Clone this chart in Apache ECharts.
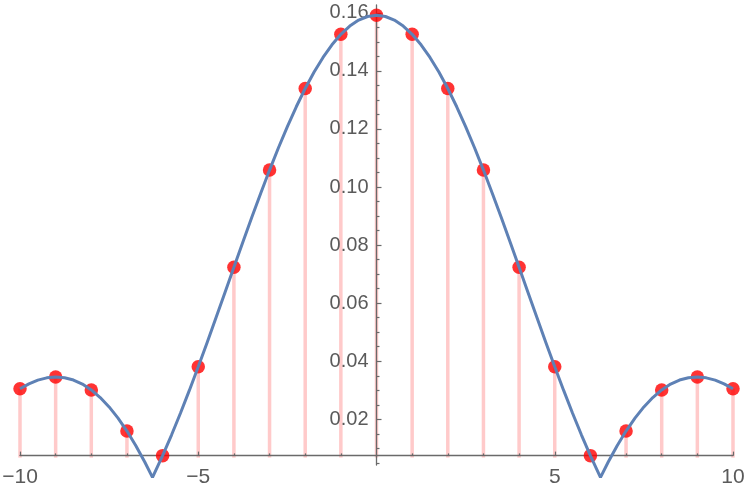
<!DOCTYPE html>
<html>
<head>
<meta charset="utf-8">
<script src="https://cdn.jsdelivr.net/npm/echarts@6/dist/echarts.min.js"></script>
<style>html,body{margin:0;padding:0;background:#fff}#c{width:750px;height:488px}</style>
</head>
<body>
<div id="c"></div>
<script>
// ---- data ----
const stemX = [-10,-9,-8,-7,-6,-5,-4,-3,-2,-1,0,1,2,3,4,5,6,7,8,9,10];
const stemY = [0.03052,0.03457,0.03011,0.01595,0.00749,0.03810,0.07236,0.10584,0.13393,0.15261,0.15916,
               0.15261,0.13393,0.10584,0.07236,0.03810,0.00749,0.01595,0.03011,0.03457,0.03052];

const curveX = [-10,-9.75,-9.5,-9.25,-9,-8.75,-8.5,-8.25,-8,-7.75,-7.5,-7.25,-7,-6.75,-6.5,-6.2832,-6.25,-6,
  -5.75,-5.5,-5.25,-5,-4.75,-4.5,-4.25,-4,-3.75,-3.5,-3.25,-3,-2.75,-2.5,-2.25,-2,-1.75,-1.5,-1.25,-1,-0.75,-0.5,-0.25,
  0,0.25,0.5,0.75,1,1.25,1.5,1.75,2,2.25,2.5,2.75,3,3.25,3.5,3.75,4,4.25,4.5,4.75,5,5.25,5.5,5.75,
  6,6.25,6.2832,6.5,6.75,7,7.25,7.5,7.75,8,8.25,8.5,8.75,9,9.25,9.5,9.75,10];
const curveY = [0.03052,0.03222,0.03348,0.03428,0.03457,0.03433,0.03352,0.03212,0.03011,0.02749,0.02426,0.02041,0.01595,0.01091,0.00530,0,0.00085,0.00749,
  0.01458,0.02209,0.02995,0.03810,0.04649,0.05504,0.06369,0.07236,0.08099,0.08949,0.09780,0.10584,0.11354,0.12083,0.12765,0.13393,0.13961,0.14465,0.14899,0.15261,0.15545,0.15750,0.15874,
  0.15916,0.15874,0.15750,0.15545,0.15261,0.14899,0.14465,0.13961,0.13393,0.12765,0.12083,0.11354,0.10584,0.09780,0.08949,0.08099,0.07236,0.06369,0.05504,0.04649,
  0.03810,0.02995,0.02209,0.01458,0.00749,0.00085,0,0.00530,0.01091,0.01595,0.02041,0.02426,0.02749,0.03011,0.03212,0.03352,0.03433,0.03457,0.03428,0.03348,0.03222,0.03052];

const yTickLabels = [0.02,0.04,0.06,0.08,0.10,0.12,0.14,0.16];
const yMinorTicks = [0.01,0.015,0.025,0.03,0.035,0.045,0.05,0.055,0.065,0.07,0.075,0.085,0.09,0.095,
  0.105,0.11,0.115,0.125,0.13,0.135,0.145,0.15,0.155];
const xTickLabels = [-10,-5,5,10];
const xMinorTicks = [-9,-8,-7,-6,-4,-3,-2,-1,1,2,3,4,6,7,8,9];
const yTailTicks = [0.005];

// ---- chart ----
const Y_MIN = 0.0075, Y_MAX = 0.1627;
const AX = '#6a6a6a', TXT = '#5a5a5a';
const FONT = 'Liberation Sans, Arial, sans-serif';

const chart = echarts.init(document.getElementById('c'), null, {renderer: 'canvas'});
const fmtX = v => v < 0 ? '\u2212' + (-v) : String(v);

chart.setOption({
  animation: false,
  grid: [
    {left: 20, right: 17, top: 5, bottom: 32.4, containLabel: false, outerBoundsMode: 'none'},
    {left: 20, right: 17, top: 455.6, height: 9.5, containLabel: false, outerBoundsMode: 'none'}
  ],
  xAxis: [
    {type: 'value', gridIndex: 0, min: -10, max: 10, z: 2,
     axisLine: {onZero: false, lineStyle: {color: AX, width: 1.3}},
     axisTick: {inside: true, length: 4, lineStyle: {color: AX, width: 1.2}, customValues: xTickLabels},
     axisLabel: {customValues: xTickLabels, formatter: fmtX, color: TXT, fontSize: 21, fontFamily: FONT, margin: 11},
     splitLine: {show: false}},
    {type: 'value', gridIndex: 0, min: -10, max: 10, position: 'bottom', z: 2,
     axisLine: {show: false, onZero: false},
     axisTick: {inside: true, length: 2.2, lineStyle: {color: AX, width: 1.2}, customValues: xMinorTicks},
     axisLabel: {show: false}, splitLine: {show: false}},
    {type: 'value', gridIndex: 1, min: -10, max: 10, show: false}
  ],
  yAxis: [
    {type: 'value', gridIndex: 0, min: Y_MIN, max: Y_MAX, position: 'left', z: 2,
     axisLine: {show: true, onZero: false, lineStyle: {color: AX, width: 1.3}},
     axisTick: {inside: true, length: 5, lineStyle: {color: AX, width: 1.2}, customValues: yTickLabels},
     axisLabel: {customValues: yTickLabels, formatter: v => v.toFixed(2), color: TXT, fontSize: 20, fontFamily: FONT, margin: 8},
     splitLine: {show: false}},
    {type: 'value', gridIndex: 0, min: Y_MIN, max: Y_MAX, position: 'left', z: 2,
     axisLine: {show: false, onZero: false},
     axisTick: {inside: true, length: 3, lineStyle: {color: AX, width: 1.2}, customValues: yMinorTicks},
     axisLabel: {show: false}, splitLine: {show: false}},
    {type: 'value', gridIndex: 1, min: 0.0043, max: Y_MIN, position: 'left', z: 2,
     axisLine: {show: true, onZero: false, lineStyle: {color: AX, width: 1.3}},
     axisTick: {inside: true, length: 3, lineStyle: {color: AX, width: 1.2}, customValues: yTailTicks},
     axisLabel: {show: false}, splitLine: {show: false}}
  ],
  series: [
    {type: 'custom', xAxisIndex: 0, yAxisIndex: 0, z: 1, clip: false,
     data: stemX.map((x, i) => [x, stemY[i]]),
     renderItem: (params, api) => {
       const top = api.coord([api.value(0), api.value(1)]);
       const bot = api.coord([api.value(0), Y_MIN]);
       return {type: 'line', shape: {x1: top[0], y1: top[1], x2: bot[0], y2: bot[1] + 2},
               style: {stroke: '#ffcaca', lineWidth: 3.5}};
     }},
    {type: 'scatter', xAxisIndex: 0, yAxisIndex: 0, z: 3, clip: false,
     data: stemX.map((x, i) => [x, stemY[i]]),
     symbol: 'circle', symbolSize: 13.5, itemStyle: {color: '#ff0000'}},
    {type: 'line', xAxisIndex: 0, yAxisIndex: 0, z: 4, clip: false,
     data: curveX.map((x, i) => [x, curveY[i]]),
     showSymbol: false, smooth: false,
     lineStyle: {color: '#5e81b5', width: 3}}
  ]
});

// place the vertical axes where x = 0, using the x scale of the chart
const px0 = chart.convertToPixel({xAxisIndex: 0}, 0);
const pxL = chart.convertToPixel({xAxisIndex: 0}, -10);
const off = -(px0 - pxL);
chart.setOption({yAxis: [{offset: off}, {offset: off}, {offset: off}]});
</script>
</body>
</html>
